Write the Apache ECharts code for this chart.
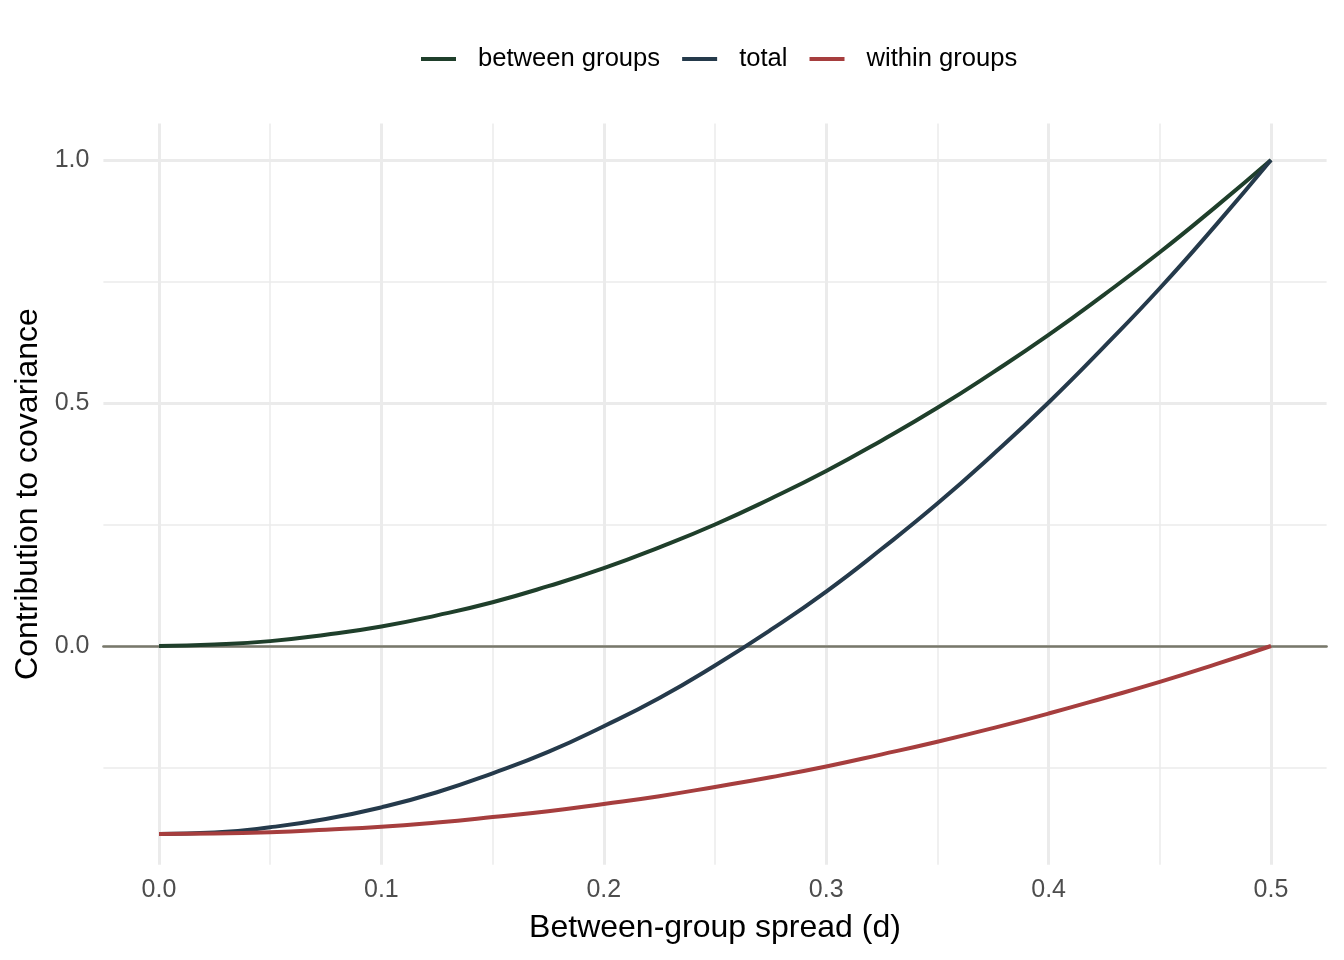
<!DOCTYPE html>
<html>
<head>
<meta charset="utf-8">
<title>Contribution to covariance</title>
<script src="https://cdn.jsdelivr.net/npm/echarts@6/dist/echarts.min.js"></script>
<style>
  html, body { margin: 0; padding: 0; background: #fff; }
  #chart { width: 1344px; height: 960px; }
</style>
</head>
<body>
<div id="chart"></div>
<script>
// values
const spread = [0, 0.025, 0.05, 0.075, 0.1, 0.125, 0.15, 0.175, 0.2, 0.225, 0.25,
  0.275, 0.3, 0.325, 0.35, 0.375, 0.4, 0.425, 0.45, 0.475, 0.5]
const betweenGroups = [0, 0.003, 0.01, 0.023, 0.04, 0.063, 0.09, 0.123, 0.16, 0.203, 0.25,
  0.303, 0.36, 0.423, 0.49, 0.563, 0.64, 0.723, 0.81, 0.903, 1.0]
const total = [-0.387, -0.384, -0.373, -0.356, -0.332, -0.301, -0.262, -0.218, -0.165, -0.107, -0.04,
  0.033, 0.112, 0.2, 0.293, 0.394, 0.501, 0.616, 0.736, 0.865, 1.0]
const withinGroups = [-0.387, -0.386, -0.383, -0.378, -0.372, -0.363, -0.352, -0.34, -0.325, -0.309, -0.29,
  -0.27, -0.248, -0.223, -0.197, -0.169, -0.139, -0.107, -0.074, -0.038, 0]
const xTickLabels = ['0.0', '0.1', '0.2', '0.3', '0.4', '0.5']
const yTickLabels = ['0.0', '0.5', '1.0']

const seriesNames = ['between groups', 'total', 'within groups']
const seriesColors = ['#1f3f2b', '#253a4b', '#a63e3e']

const gridColor = '#ebebeb'
const none = 'rgba(0,0,0,0)'

function pickLabel(labels) {
  return function(v) {
    const hit = labels.find(l => Math.abs(Number(l) - v) < 1e-6)
    return hit || ''
  }
}

const chart = echarts.init(document.getElementById('chart'))

const lines = [betweenGroups, total, withinGroups].map((vals, i) => ({
  name: seriesNames[i],
  type: 'line',
  xAxisIndex: 0,
  yAxisIndex: 0,
  data: spread.map((x, j) => [x, vals[j]]),
  smooth: true,
  showSymbol: false,
  symbol: 'none',
  lineStyle: { color: seriesColors[i], width: 4 },
  itemStyle: { color: seriesColors[i] },
  emphasis: { disabled: true }
}))

chart.setOption({
  animation: false,
  textStyle: { fontFamily: 'Liberation Sans, Arial, sans-serif' },
  legend: {
    left: 421,
    top: 46,
    padding: 0,
    icon: 'rect',
    itemWidth: 35,
    itemHeight: 4,
    itemGap: 22,
    textStyle: { fontSize: 25.6, color: '#000', padding: [0, 0, 0, 17] },
    data: seriesNames
  },
  grid: {
    left: 103.4,
    right: 17.4,
    top: 123.5,
    bottom: 95.3
  },
  xAxis: [{
    // labels + major grid
    type: 'value',
    position: 'bottom',
    min: -0.025,
    max: 0.525,
    interval: 0.025,
    name: 'Between-group spread (d)',
    nameLocation: 'middle',
    nameGap: 47,
    nameTextStyle: { fontSize: 32, color: '#000' },
    axisLine: { show: false },
    axisTick: { show: false },
    axisLabel: { formatter: pickLabel(xTickLabels), color: '#4d4d4d', fontSize: 25, margin: 13 },
    splitLine: { show: true, lineStyle: { width: 3, color: [none, gridColor, none, none] } }
  }, {
    // minor grid + zero line
    type: 'value',
    position: 'bottom',
    min: -0.025,
    max: 0.525,
    interval: 0.025,
    axisLine: { show: true, onZero: true, lineStyle: { color: '#78786b', width: 2.5 } },
    axisTick: { show: false },
    axisLabel: { show: false },
    splitLine: { show: true, lineStyle: { width: 1.5, color: [none, none, none, gridColor] } }
  }],
  yAxis: [{
    type: 'value',
    position: 'left',
    min: -0.45,
    max: 1.075,
    interval: 0.025,
    name: 'Contribution to covariance',
    nameLocation: 'middle',
    nameGap: 58,
    nameTextStyle: { fontSize: 32, color: '#000' },
    axisLine: { show: false },
    axisTick: { show: false },
    axisLabel: { formatter: pickLabel(yTickLabels), color: '#4d4d4d', fontSize: 25, margin: 14 },
    splitLine: {
      show: true,
      lineStyle: { width: 3, color: [none, none, none, none, none, none, none, none, none, none,
        none, none, none, none, none, none, none, none, gridColor, none] }
    }
  }, {
    type: 'value',
    position: 'left',
    min: -0.45,
    max: 1.075,
    interval: 0.025,
    axisLine: { show: false },
    axisTick: { show: false },
    axisLabel: { show: false },
    splitLine: {
      show: true,
      lineStyle: { width: 1.5, color: [none, none, none, none, none, none, none, none, gridColor, none,
        none, none, none, none, none, none, none, none, none, none] }
    }
  }],
  series: lines
})
</script>
</body>
</html>
